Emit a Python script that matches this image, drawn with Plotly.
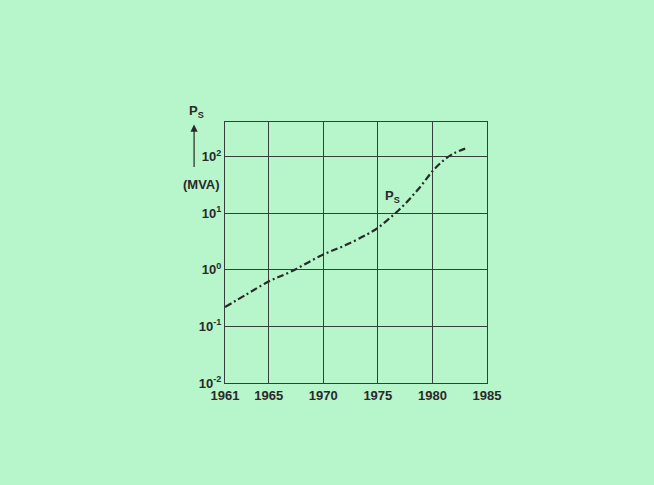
import plotly.graph_objects as go

years = [1961, 1963, 1965, 1967, 1970, 1972, 1974, 1975,
         1976, 1977, 1978, 1979, 1980, 1981, 1982, 1983]
ps_mva = [0.22, 0.37, 0.62, 0.92, 1.86, 2.7, 4.2, 5.5,
          7.9, 11.7, 18.6, 31, 55, 85, 115, 138]

x_ticks = [1961, 1965, 1970, 1975, 1980, 1985]
y_ticks = [0.01, 0.1, 1, 10, 100]
y_tick_text = ["10<sup>-2</sup>", "10<sup>-1</sup>", "10<sup>0</sup>",
               "10<sup>1</sup>", "10<sup>2</sup>"]

BG = "#b7f5ca"
INK = "#2a2a2a"
GRID = "#35403a"
FONT = "Liberation Sans"

fig = go.Figure()
fig.add_trace(go.Scatter(
    x=years, y=ps_mva, mode="lines",
    line=dict(color=INK, width=2.2, dash="7px,3px,2px,3px", shape="spline",
              smoothing=1.0),
    showlegend=False, hoverinfo="skip"))

fig.update_layout(
    width=654, height=485,
    paper_bgcolor=BG, plot_bgcolor=BG,
    margin=dict(l=225, r=167, t=122, b=102),
    font=dict(family=FONT, size=13, color=INK),
    xaxis=dict(range=[1961, 1985], tickvals=x_ticks,
               ticktext=[str(v) for v in x_ticks],
               showgrid=True, gridcolor=GRID, gridwidth=1,
               showline=True, linecolor=GRID, linewidth=1, mirror=True,
               zeroline=False, ticks="",
               tickfont=dict(family=FONT, size=13, color=INK, weight="bold")),
    yaxis=dict(type="log", range=[-2, 2.61], tickvals=y_ticks,
               ticktext=y_tick_text,
               showgrid=True, gridcolor=GRID, gridwidth=1,
               showline=True, linecolor=GRID, linewidth=1, mirror=True,
               zeroline=False, ticks="",
               tickfont=dict(family=FONT, size=13, color=INK, weight="bold")),
)

# axis symbol, arrow and unit
fig.add_annotation(xref="paper", yref="paper", x=-0.118, y=0.99,
                   ax=0, ay=44, showarrow=True, arrowhead=2, arrowsize=1.2,
                   arrowwidth=1.2, arrowcolor=INK, text="")
fig.add_annotation(xref="paper", yref="paper", x=-0.11, y=1.0,
                   yanchor="bottom", xanchor="center", showarrow=False,
                   text="<b>P<sub>S</sub></b>",
                   font=dict(family=FONT, size=13, color=INK))
fig.add_annotation(xref="paper", yref="paper", x=-0.012, y=0.76,
                   xanchor="right", yanchor="middle", showarrow=False,
                   text="<b>(MVA)</b>",
                   font=dict(family=FONT, size=13, color=INK))
# curve label
fig.add_annotation(x=1976.3, y=1.3, yref="y", xref="x", showarrow=False,
                   text="<b>P<sub>S</sub></b>",
                   font=dict(family=FONT, size=13, color=INK))

fig.write_html(
    "out.html",
    config={"displayModeBar": False},
    post_script="document.body.style.margin='0';"
                "document.body.style.background='" + BG + "';",
)
